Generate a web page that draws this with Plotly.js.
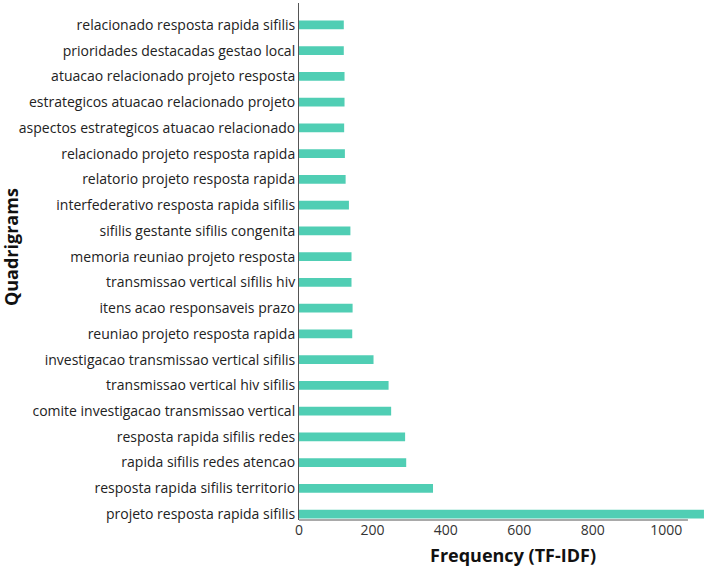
<!DOCTYPE html>
<html>
<head>
<meta charset="utf-8">
<script src="https://cdn.plot.ly/plotly-3.0.1.min.js"></script>
<style>html,body{margin:0;padding:0;background:#fff;}#chart{width:708px;height:567px;}</style>
</head>
<body>
<div id="chart"></div>
<script>
// Categories listed top to bottom
const quadrigrams = [
  "relacionado resposta rapida sifilis",
  "prioridades destacadas gestao local",
  "atuacao relacionado projeto resposta",
  "estrategicos atuacao relacionado projeto",
  "aspectos estrategicos atuacao relacionado",
  "relacionado projeto resposta rapida",
  "relatorio projeto resposta rapida",
  "interfederativo resposta rapida sifilis",
  "sifilis gestante sifilis congenita",
  "memoria reuniao projeto resposta",
  "transmissao vertical sifilis hiv",
  "itens acao responsaveis prazo",
  "reuniao projeto resposta rapida",
  "investigacao transmissao vertical sifilis",
  "transmissao vertical hiv sifilis",
  "comite investigacao transmissao vertical",
  "resposta rapida sifilis redes",
  "rapida sifilis redes atencao",
  "resposta rapida sifilis territorio",
  "projeto resposta rapida sifilis"
];
const tfidf = [122, 122, 124, 124, 123, 125, 127, 136, 140, 143, 143, 146, 145, 203, 244, 251, 289, 292, 365, 1103];
const xTicks = [0, 200, 400, 600, 800, 1000];
const xTitle = 'Frequency (TF-IDF)';
const yTitle = 'Quadrigrams';

const FONT = "'Open Sans', 'Noto Sans', sans-serif";

const trace = {
  type: 'bar',
  orientation: 'h',
  x: tfidf,
  y: quadrigrams,
  width: 0.34,
  marker: {color: '#50CEB4', line: {width: 0}},
  hoverinfo: 'x+y'
};

const titleFont = {size: 18, color: '#111111', family: FONT, weight: 'bold'};

const layout = {
  width: 708,
  height: 567,
  margin: {l: 299, r: 0, t: 3, b: 47},
  paper_bgcolor: '#ffffff',
  plot_bgcolor: '#ffffff',
  showlegend: false,
  font: {family: FONT, color: '#222222', size: 14},
  xaxis: {
    range: [0, 1114],
    tickvals: xTicks,
    ticktext: xTicks.map(String),
    showgrid: false,
    zeroline: false,
    showline: false,
    ticks: '',
    tickfont: {size: 14, color: '#333333'}
  },
  yaxis: {
    type: 'category',
    categoryorder: 'array',
    categoryarray: quadrigrams,
    range: [19.23, -0.85],
    showgrid: false,
    zeroline: false,
    showline: true,
    linecolor: '#555555',
    linewidth: 1,
    ticks: '',
    tickfont: {size: 14, color: '#222222'}
  },
  shapes: [{
    type: 'line', xref: 'paper', yref: 'paper',
    x0: 0, x1: 0.951, y0: 0, y1: 0,
    line: {color: '#555555', width: 1}
  }],
  annotations: [
    {text: xTitle, xref: 'paper', yref: 'paper', x: 0.523, y: -0.0677,
     xanchor: 'center', yanchor: 'middle', showarrow: false, font: titleFont},
    {text: yTitle, xref: 'paper', yref: 'paper', x: -0.704, y: 0.528, textangle: -90,
     xanchor: 'center', yanchor: 'middle', showarrow: false, font: titleFont}
  ]
};

Plotly.newPlot('chart', [trace], layout, {displayModeBar: false, staticPlot: true});
</script>
</body>
</html>
